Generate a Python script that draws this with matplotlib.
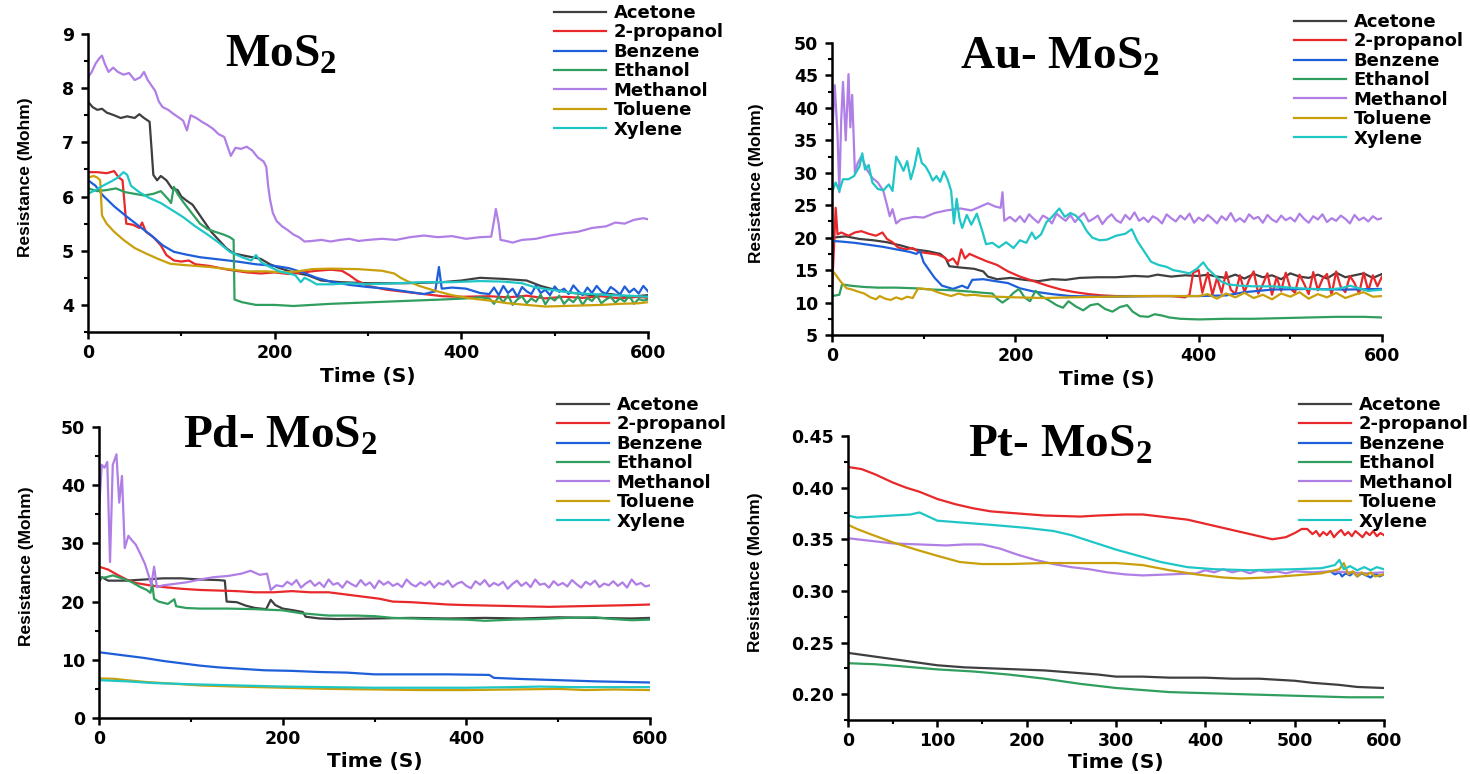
import numpy as np
import matplotlib.pyplot as plt
from matplotlib.ticker import MultipleLocator, FormatStrFormatter

plt.rcParams['font.family'] = ['DejaVu Sans']
plt.rcParams['font.weight'] = 'bold'
plt.rcParams['mathtext.fontset'] = 'custom'
plt.rcParams['mathtext.rm'] = 'Liberation Serif:bold'
plt.rcParams['mathtext.bf'] = 'Liberation Serif:bold'

solvents = ['Acetone', '2-propanol', 'Benzene', 'Ethanol', 'Methanol', 'Toluene', 'Xylene']
colors = ['#3f3f3f', '#e8282b', '#1e5fd9', '#2f9e5e', '#b07fe6', '#c9a00c', '#1fc6c6']

# ---- MoS2 : (time s, resistance Mohm) ----
mos2_acetone = [(0,7.75),(5,7.65),(10,7.6),(15,7.62),(20,7.55),(28,7.5),(35,7.45),(42,7.48),(50,7.45),(55,7.52),
                (60,7.45),(66,7.38),(68,6.9),(70,6.4),(74,6.3),(78,6.38),(84,6.3),(90,6.15),(96,6.12),(100,6.0),
                (106,5.92),(112,5.85),(118,5.7),(124,5.55),(132,5.35),(140,5.2),(148,5.05),(156,4.95),(170,4.9),
                (185,4.85),(195,4.75),(205,4.68),(220,4.6),(235,4.55),(250,4.45),(270,4.42),(300,4.4),(340,4.4),
                (380,4.42),(400,4.45),(420,4.5),(445,4.48),(470,4.45),(485,4.35),(500,4.28),(520,4.22),(540,4.18),
                (560,4.2),(580,4.15),(600,4.18)]
mos2_propanol = [(0,6.45),(10,6.45),(20,6.43),(28,6.47),(33,6.35),(37,6.3),(39,5.9),(41,5.5),(48,5.48),(55,5.42),
                 (58,5.52),(62,5.35),(70,5.25),(78,5.1),(84,4.92),(92,4.82),(100,4.8),(108,4.82),(115,4.75),(130,4.72),
                 (150,4.65),(170,4.6),(185,4.58),(200,4.6),(215,4.57),(230,4.6),(245,4.63),(260,4.65),(272,4.63),
                 (280,4.55),(288,4.45),(300,4.35),(320,4.28),(340,4.24),(360,4.2),(380,4.16),(400,4.15),(430,4.16),
                 (450,4.14),(470,4.17),(490,4.12),(510,4.15),(530,4.13),(550,4.16),(570,4.12),(590,4.15),(600,4.13)]
mos2_benzene = [(0,6.3),(8,6.2),(16,6.02),(28,5.82),(40,5.65),(55,5.45),(68,5.28),(80,5.1),(92,4.98),(105,4.93),
                (120,4.88),(140,4.84),(160,4.8),(180,4.75),(200,4.72),(215,4.68),(230,4.6),(245,4.5),(260,4.43),
                (280,4.37),(300,4.33),(320,4.3),(340,4.25),(360,4.2),(372,4.25),(376,4.7),(379,4.3),(390,4.32),
                (405,4.3),(420,4.22)]
mos2_benzene_tail = [4.2, 4.32, 4.18, 4.35, 4.22, 4.3, 4.15, 4.33, 4.25, 4.2, 4.36, 4.22, 4.28, 4.18, 4.34, 4.24,
                     4.3, 4.2, 4.36, 4.26, 4.18, 4.32, 4.22, 4.35, 4.25, 4.2, 4.33, 4.27, 4.19, 4.34, 4.23, 4.3,
                     4.21, 4.35, 4.25]
mos2_ethanol = [(0,6.15),(10,6.1),(20,6.12),(30,6.15),(40,6.08),(50,6.05),(60,6.02),(70,6.05),(78,6.1),(86,5.95),
                (89,5.88),(92,6.18),(96,6.05),(102,5.9),(110,5.72),(120,5.5),(128,5.4),(136,5.35),(145,5.3),
                (152,5.25),(156,5.2),(157,4.1),(165,4.05),(180,4.0),(200,4.0),(220,3.98),(240,4.0),(260,4.02),
                (290,4.04),(320,4.06),(350,4.08),(380,4.1),(405,4.12),(420,4.14)]
mos2_ethanol_tail = [4.12, 4.02, 4.15, 4.05, 4.18, 4.0, 4.1, 4.16, 4.03, 4.12, 4.06, 4.19, 4.01, 4.14, 4.08, 4.17,
                     4.02, 4.11, 4.05, 4.16, 4.0, 4.13, 4.07, 4.18, 4.03, 4.1, 4.15, 4.04, 4.12, 4.06, 4.17, 4.02,
                     4.11, 4.08, 4.1]
mos2_methanol = [(0,8.2),(4,8.3),(8,8.45),(12,8.55),(15,8.6),(18,8.45),(22,8.3),(27,8.38),(32,8.3),(38,8.25),
                 (44,8.28),(50,8.15),(56,8.2),(60,8.3),(64,8.15),(68,8.05),(72,7.95),(76,7.75),(80,7.65),(86,7.6),
                 (92,7.52),(98,7.45),(102,7.4),(106,7.22),(110,7.5),(116,7.45),(122,7.38),(128,7.32),(134,7.25),
                 (140,7.15),(146,7.1),(150,6.9),(153,6.75),(158,6.9),(164,6.88),(170,6.92),(176,6.85),(182,6.72),
                 (188,6.65),(191,6.55),(193,6.2),(195,5.95),(198,5.7),(202,5.55),(208,5.45),(214,5.38),(220,5.3),
                 (226,5.25),(232,5.17),(240,5.18),(250,5.2),(260,5.17),(270,5.2),(280,5.22),(290,5.18),(300,5.2),
                 (315,5.22),(330,5.2),(345,5.25),(360,5.28),(375,5.25),(390,5.27),(405,5.22),(420,5.25),(432,5.26),
                 (435,5.55),(437,5.77),(440,5.5),(442,5.2),(448,5.18),(455,5.15),(465,5.2),(480,5.22),(495,5.28),
                 (510,5.32),(525,5.35),(540,5.42),(555,5.45),(565,5.52),(575,5.5),(585,5.57),(595,5.6),(600,5.58)]
mos2_toluene = [(0,6.35),(6,6.38),(10,6.35),(13,6.3),(15,5.65),(20,5.5),(28,5.35),(38,5.2),(50,5.05),(62,4.95),
                (75,4.85),(88,4.76),(100,4.74),(115,4.72),(130,4.7),(150,4.66),(170,4.62),(190,4.62),(210,4.6),
                (225,4.62),(240,4.66),(260,4.67),(290,4.66),(315,4.63),(328,4.58),(335,4.5),(342,4.44),(355,4.35),
                (370,4.27),(390,4.18),(410,4.12),(430,4.08),(450,4.03),(470,4.0),(490,3.97),(510,3.98),(530,3.99),
                (550,4.0),(570,4.02),(590,4.03),(600,4.05)]
mos2_xylene = [(0,6.05),(8,6.12),(16,6.2),(25,6.28),(32,6.35),(38,6.45),(42,6.4),(46,6.2),(55,6.08),(65,5.98),
               (78,5.88),(90,5.75),(102,5.62),(115,5.45),(128,5.3),(140,5.15),(152,4.98),(165,4.88),(175,4.82),
               (180,4.92),(186,4.78),(195,4.7),(205,4.62),(215,4.58),(222,4.55),(228,4.42),(232,4.5),(238,4.45),
               (245,4.38),(260,4.38),(280,4.4),(300,4.38),(330,4.4),(360,4.42),(390,4.42),(420,4.44),(445,4.43),
               (465,4.4),(480,4.32),(500,4.27),(520,4.22),(540,4.2),(560,4.18),(580,4.17),(600,4.15)]

# ---- Au-MoS2 ----
au_acetone = [(0,20),(15,20.2),(30,19.8),(45,19.6),(60,19.3),(75,18.8),(90,18.2),(105,17.9),(118,17.5),(124,16.8),
              (128,15.6),(140,15.4),(155,15.2),(165,14.8),(170,14.0),(180,13.6),(195,13.8),(210,13.5),(225,13.3),
              (240,13.6),(255,13.5),(270,13.8),(290,13.9),(310,13.9),(330,14.1),(345,14.0),(355,14.3),(370,14.0),
              (385,14.2),(400,14.1),(410,14.3)]
au_acetone_tail = [14.0, 13.8, 14.3, 13.7, 14.4, 13.9, 14.2, 13.6, 14.5, 14.0, 13.8, 14.3, 13.7, 14.6, 13.9, 14.2,
                   14.5, 13.8, 14.4]
au_propanol = [(0,12),(2,18),(4,24.6),(6,20.5),(10,20.8),(18,20.3),(25,20.8),(32,21.0),(40,20.6),(48,20.3),
               (55,20.8),(60,19.8),(66,19.3),(72,18.5),(80,18.2),(88,18.4),(95,17.8),(105,17.6),(115,17.4),
               (122,17.0),(127,16.4),(132,16.8),(137,15.8),(141,18.2),(145,16.8),(150,17.5),(158,17.0),(168,16.4),
               (180,15.8),(192,14.8),(205,14.0),(220,13.3),(235,12.6),(250,12.0),(265,11.6),(280,11.3),(295,11.1),
               (310,11.0),(340,11.0),(370,11.0),(385,10.8),(390,11.2),(394,14.6),(400,15.0),(404,11.5)]
au_propanol_tail = [14.6, 11.2, 13.8, 11.5, 14.7, 12.0, 11.3, 14.2, 11.6, 13.5, 14.8, 11.4, 12.8, 14.5, 11.2, 13.9,
                    11.8, 14.6, 12.2, 11.5, 14.3, 12.9, 11.3, 14.7, 11.9, 13.6, 14.4, 11.2, 14.8, 12.4, 11.6, 14.1,
                    13.0, 11.4, 14.6, 11.8, 14.2, 12.5, 14.0]
au_benzene = [(0,19.5),(10,19.4),(25,19.2),(40,18.9),(55,18.6),(70,18.2),(85,17.8),(92,17.5),(96,17.9),(100,16.2),
              (105,15.2),(112,13.8),(120,12.6),(132,12.1),(142,12.6),(148,12.2),(153,13.5),(165,13.6),(178,13.3),
              (192,13.0),(205,12.2),(220,11.7),(240,11.3),(260,11.0),(300,10.9),(350,11.0),(400,11.0),(430,11.1),
              (450,11.6),(480,12.0),(520,12.1),(560,12.0),(600,12.1)]
au_ethanol = [(0,11.0),(8,11.2),(11,12.8),(20,12.6),(35,12.4),(50,12.3),(70,12.3),(90,12.2),(110,12.0),(130,11.9),
              (150,11.7),(165,11.5),(175,11.4),(180,10.6),(186,10.0),(192,10.6),(198,11.5),(204,12.1),(210,10.8),
              (216,10.2),(222,11.8),(228,11.0),(236,10.4),(245,9.6),(252,9.2),(258,10.2),(266,9.4),(274,8.8),
              (282,9.6),(290,9.8),(298,9.0),(306,8.6),(314,9.3),(322,9.6),(328,8.6),(336,7.9),(345,7.8),(352,8.2),
              (360,8.0),(368,7.7),(380,7.5),(400,7.4),(430,7.5),(460,7.5),(490,7.6),(520,7.7),(550,7.8),(580,7.8),
              (600,7.7)]
au_methanol = [(0,35.5),(3,43.5),(6,36),(8,27),(10,38),(12,44),(15,35),(18,45.2),(20,37),(22,42),(25,30),(28,31.5),
               (32,32.5),(38,30.5),(44,29.2),(50,28.5),(56,27.2),(60,25),(63,23.3),(66,24.4),(70,22.2),(75,22.8),
               (82,23.0),(90,23.2),(100,23.1),(112,23.8),(125,24.2),(140,24.5),(152,24.2),(162,24.8),(170,25.3),
               (178,24.8),(184,24.6),(186,27.0),(188,22.6),(194,23.2)]
au_methanol_tail = [22.5, 23.3, 22.4, 23.6, 22.9, 22.3, 23.4, 23.0, 22.2, 23.7, 23.1, 22.6, 23.5, 22.4, 23.2, 23.8,
                    22.5, 22.9, 23.4, 22.1, 23.0, 23.6, 22.7, 22.3, 23.5, 22.8, 23.9, 22.6, 23.1, 22.4, 23.3, 22.9,
                    22.2, 23.6, 23.0, 22.5, 23.4, 22.8, 23.7, 22.3, 23.1, 22.6, 23.5, 22.9, 22.2, 23.3, 22.7, 23.8,
                    22.5, 23.0, 22.4, 23.6, 22.9, 23.2, 22.3, 23.5, 22.8, 22.4, 23.4, 22.7, 23.1, 22.5, 23.7, 22.9,
                    22.3, 23.3, 22.8, 23.6, 22.4, 23.0, 22.6, 23.4, 22.9, 22.2, 23.5, 22.7, 23.1, 22.5, 23.3, 22.8,
                    23.0]
au_toluene = [(0,15),(4,14.3),(8,13.5),(12,12.8),(16,12.2),(22,12.0),(28,11.7),(35,11.4),(42,10.8),(48,10.5),
              (52,11.0),(58,10.6),(64,10.4),(70,10.8),(76,10.5),(82,10.9),(88,10.7),(94,12.2),(100,12.1),(108,12.0),
              (115,11.6),(122,11.3),(130,11.0),(138,11.4),(146,11.1),(155,11.2),(165,11.0),(180,10.9),(200,10.8),
              (230,10.7),(260,10.8),(300,10.9),(340,11.0),(380,11.0),(395,11.0)]
au_toluene_tail = [11.0, 11.3, 10.6, 11.4, 10.8, 11.5, 10.7, 11.2, 10.5, 11.4, 10.9, 11.6, 10.6, 11.3, 10.8, 11.5,
                   10.7, 11.2, 11.6, 10.9, 11.0]
au_xylene = [(0,27),(4,28.5),(8,27.2),(12,29),(18,29),(24,29.5),(30,31),(33,33),(36,30.5),(40,31.2),(44,28.5),
             (50,27.5),(56,27.3),(62,28.2),(66,27.2),(70,32.5),(74,31.5),(78,30.3),(82,31.8),(86,29),(90,31),
             (94,33.8),(98,31.5),(102,31),(106,30),(110,28.8),(114,29.5),(118,28.6),(122,30.2),(126,29),(130,27.2),
             (133,22.2),(136,26),(139,23),(142,21.5),(147,23.5),(152,22),(158,23.7),(164,21),(168,19),(175,19.2),
             (182,18.5),(190,19.3),(198,18.4),(205,19.6),(212,19.2),(218,20.8),(222,19.8),(228,20.5),(234,22.4),
             (240,23.2),(248,24.5),(254,23.2),(260,23.8),(266,23.4),(272,22.5),(278,21),(284,20),(292,19.6),
             (300,19.7),(310,20.3),(320,20.6),(327,21.3),(333,19.5),(340,18),(348,16.3),(356,15.8),(365,15.5),
             (372,15.0),(380,14.8),(390,14.5),(398,15.2),(405,16.2),(410,15.2),(416,14.4),(424,13.3),(432,12.8),
             (445,12.6),(460,12.5),(480,12.5),(500,12.3),(520,12.1),(540,12.0),(555,12.2),(565,12.6),(575,12.2),
             (585,11.8),(600,12.0)]

# ---- Pd-MoS2 ----
pd_acetone = [(0,23.4),(3,24.2),(10,23.6),(30,23.6),(50,23.8),(70,24.0),(90,24.0),(110,23.8),(130,23.7),(137,23.6),
              (139,20.0),(150,19.9),(160,19.3),(170,18.9),(182,18.7),(187,20.3),(192,19.4),(200,18.8),(212,18.5),
              (222,18.2),(225,17.4),(240,17.1),(260,17.0),(300,17.1),(340,17.2),(380,17.1),(420,17.2),(460,17.1),
              (500,17.3),(540,17.2),(580,17.1),(600,17.2)]
pd_propanol = [(0,26),(10,25.5),(20,24.6),(30,23.8),(40,23.2),(55,22.8),(70,22.5),(90,22.2),(110,22.0),(130,21.9),
               (150,21.8),(170,21.6),(190,21.6),(210,21.8),(230,21.6),(250,21.6),(270,21.2),(290,20.8),(305,20.5),
               (320,20.0),(340,19.9),(360,19.7),(380,19.5),(400,19.4),(430,19.3),(460,19.2),(490,19.1),(520,19.2),
               (550,19.3),(580,19.4),(600,19.5)]
pd_benzene = [(0,11.3),(15,11.0),(30,10.7),(50,10.3),(70,9.8),(90,9.4),(110,9.0),(130,8.7),(150,8.5),(180,8.2),
              (210,8.1),(240,7.9),(270,7.8),(300,7.5),(340,7.5),(380,7.5),(425,7.4),(430,6.9),(460,6.7),(500,6.5),
              (540,6.3),(570,6.2),(600,6.1)]
pd_ethanol = [(0,24.0),(8,24.2),(15,24.5),(25,24.0),(35,23.4),(45,22.5),(52,22.0),(56,21.5),(58,23.0),(60,20.5),
              (65,20.0),(75,19.6),(82,20.4),(84,19.2),(95,18.9),(110,18.8),(140,18.8),(170,18.7),(200,18.5),
              (220,18.0),(250,17.6),(280,17.6),(300,17.5),(320,17.2),(360,17.0),(400,16.9),(420,16.7),(450,16.9),
              (480,17.0),(510,17.2),(540,17.3),(560,17.0),(580,16.8),(600,16.9)]
pd_methanol = [(0,35.5),(3,43.5),(6,43),(9,44),(12,26.8),(15,43.5),(19,45.3),(22,37),(25,41.6),(28,29.2),(32,31.3),
               (36,30.5),(40,29.8),(45,28.2),(50,26.5),(54,24.5),(57,22.8),(60,26),(63,22.5),(70,22.8),(80,23),
               (95,23.3),(110,23.8),(125,24.2),(140,24.4),(155,24.8),(165,25.3),(175,24.6),(183,24.8),(187,22.0),
               (193,22.8)]
pd_methanol_tail = [22.6, 23.4, 22.9, 23.7, 22.4, 23.1, 23.6, 22.7, 23.3, 22.5, 23.8, 22.9, 23.2, 22.4, 23.5, 23.0,
                    22.6, 23.7, 22.8, 23.3, 22.3, 23.6, 22.9, 23.4, 22.7, 23.1, 22.5, 23.8, 23.0, 22.6, 23.3, 22.8,
                    23.5, 22.4, 23.2, 22.9, 23.6, 22.5, 23.1, 23.4, 22.7, 22.3, 23.5, 22.9, 23.7, 22.6, 23.2, 22.8,
                    23.4, 22.2, 23.0, 23.6, 22.7, 23.3, 22.5, 23.8, 22.9, 23.1, 22.4, 23.5, 22.8, 23.2, 22.6, 23.7,
                    23.0, 22.4, 23.4, 22.9, 23.6, 22.5, 23.1, 22.8, 23.5, 22.7, 23.3, 22.4, 23.8, 22.9, 23.2, 22.6,
                    22.8]
pd_toluene = [(0,6.8),(15,6.75),(30,6.5),(50,6.2),(80,5.9),(110,5.6),(150,5.4),(200,5.2),(250,5.0),(300,4.9),
              (350,4.8),(400,4.8),(450,4.9),(500,5.0),(530,4.8),(560,4.9),(600,4.8)]
pd_xylene = [(0,6.5),(15,6.4),(30,6.3),(60,6.0),(100,5.8),(150,5.6),(200,5.4),(250,5.3),(300,5.2),(350,5.2),
             (400,5.2),(450,5.3),(480,5.4),(520,5.3),(560,5.3),(600,5.3)]

# ---- Pt-MoS2 ----
pt_acetone = [(0,0.240),(25,0.237),(50,0.234),(75,0.231),(100,0.228),(130,0.226),(160,0.225),(190,0.224),
              (220,0.223),(250,0.221),(280,0.219),(300,0.217),(330,0.217),(360,0.216),(400,0.216),(430,0.215),
              (460,0.215),(480,0.214),(500,0.213),(520,0.211),(550,0.209),(570,0.207),(600,0.206)]
pt_propanol = [(0,0.420),(15,0.418),(30,0.413),(50,0.405),(65,0.400),(80,0.396),(100,0.389),(120,0.384),(140,0.380),
               (160,0.377),(190,0.375),(220,0.373),(260,0.372),(280,0.373),(310,0.374),(330,0.374),(350,0.372),
               (380,0.369),(410,0.363),(440,0.357),(460,0.353),(475,0.350),(490,0.352),(500,0.356),(508,0.360),
               (514,0.360)]
pt_propanol_tail = [0.355, 0.358, 0.353, 0.357, 0.354, 0.358, 0.352, 0.356, 0.359, 0.354, 0.357, 0.353, 0.358,
                    0.355, 0.352, 0.357, 0.354, 0.358, 0.353, 0.356, 0.354]
pt_benzene = [(540,0.319),(545,0.316),(550,0.318),(553,0.314),(557,0.317),(562,0.315),(566,0.318),(570,0.314),
              (575,0.317),(580,0.315),(585,0.313),(590,0.317),(595,0.314),(600,0.316)]
pt_ethanol = [(0,0.230),(30,0.229),(60,0.227),(100,0.224),(140,0.222),(180,0.219),(220,0.215),(260,0.210),
              (300,0.206),(330,0.204),(360,0.202),(400,0.201),(440,0.200),(480,0.199),(520,0.198),(560,0.197),
              (600,0.197)]
pt_methanol = [(0,0.351),(20,0.349),(50,0.346),(80,0.345),(110,0.344),(130,0.345),(150,0.345),(170,0.341),
               (190,0.335),(210,0.330),(230,0.326),(250,0.323),(270,0.321),(290,0.318),(310,0.316),(330,0.315),
               (360,0.316),(390,0.317),(400,0.320),(410,0.318),(420,0.321),(430,0.318),(440,0.320),(450,0.317),
               (460,0.320),(470,0.318),(480,0.319),(490,0.317),(500,0.319),(520,0.318),(540,0.319),(560,0.318),
               (580,0.317),(600,0.318)]
pt_toluene = [(0,0.364),(10,0.360),(25,0.355),(50,0.347),(80,0.339),(100,0.334),(125,0.328),(150,0.326),(180,0.326),
              (220,0.327),(260,0.327),(300,0.327),(330,0.325),(360,0.320),(390,0.316),(420,0.313),(440,0.312),
              (470,0.313),(500,0.315),(530,0.317),(550,0.321),(555,0.327),(560,0.316),(565,0.319),(570,0.314),
              (575,0.318),(580,0.315),(585,0.318),(590,0.314),(600,0.316)]
pt_xylene = [(0,0.373),(10,0.371),(30,0.372),(50,0.373),(70,0.374),(80,0.376),(90,0.372),(100,0.368),(130,0.366),
             (160,0.364),(200,0.361),(230,0.358),(250,0.354),(275,0.347),(300,0.340),(325,0.334),(350,0.328),
             (380,0.323),(410,0.321),(450,0.320),(500,0.321),(530,0.322),(545,0.325),(550,0.330),(555,0.321),
             (562,0.324),(570,0.320),(578,0.323),(585,0.320),(592,0.323),(600,0.321)]


def series(pairs, tail=(), start=0, step=5):
    t = [p[0] for p in pairs]
    r = [p[1] for p in pairs]
    t += [start + step * i for i in range(len(tail))]
    r += list(tail)
    return t, r


panels = [
    dict(title='MoS$_{2}$', ylim=(3.5, 9), major=1, minor=0.5, xmajor=200, fmt='%d',
         rect=(88, 34, 648, 332), title_xy=(281, 67), leg_xy=(554, 4), ylab_x=-0.112, xlab_y=-0.151,
         data=[series(mos2_acetone), series(mos2_propanol),
               series(mos2_benzene, mos2_benzene_tail, 430),
               series(mos2_ethanol, mos2_ethanol_tail, 430),
               series(mos2_methanol), series(mos2_toluene), series(mos2_xylene)]),
    dict(title='Au- MoS$_{2}$', ylim=(5, 50), major=5, minor=2.5, xmajor=200, fmt='%d',
         rect=(832, 43, 1382, 335), title_xy=(1060, 68), leg_xy=(1294, 13), ylab_x=-0.138, xlab_y=-0.154,
         data=[series(au_acetone, au_acetone_tail, 420, 10),
               series(au_propanol, au_propanol_tail, 410),
               series(au_benzene), series(au_ethanol),
               series(au_methanol, au_methanol_tail, 200),
               series(au_toluene, au_toluene_tail, 400, 10),
               series(au_xylene)]),
    dict(title='Pd- MoS$_{2}$', ylim=(0, 50), major=10, minor=5, xmajor=200, fmt='%d',
         rect=(99, 427, 650, 718), title_xy=(280, 448), leg_xy=(557, 396), ylab_x=-0.132, xlab_y=-0.151,
         data=[series(pd_acetone), series(pd_propanol), series(pd_benzene), series(pd_ethanol),
               series(pd_methanol, pd_methanol_tail, 200), series(pd_toluene), series(pd_xylene)]),
    dict(title='Pt- MoS$_{2}$', ylim=(0.175, 0.45), major=0.05, minor=0.025, xmajor=100, fmt='%.2f',
         rect=(848, 436, 1384, 720), title_xy=(1060, 457), leg_xy=(1299, 396), ylab_x=-0.172, xlab_y=-0.148,
         data=[series(pt_acetone), series(pt_propanol, pt_propanol_tail, 520, 4),
               series(pt_benzene), series(pt_ethanol), series(pt_methanol),
               series(pt_toluene), series(pt_xylene)]),
]

W, H = 1470, 774
fig = plt.figure(figsize=(W / 100, H / 100), dpi=100)

for p in panels:
    x0, y0, x1, y1 = p['rect']
    ax = fig.add_axes([x0 / W, 1 - y1 / H, (x1 - x0) / W, (y1 - y0) / H])
    for (t, r), name, c in zip(p['data'], solvents, colors):
        ax.plot(t, r, color=c, lw=1.6, label=name)
    ax.set_xlim(0, 600)
    ax.set_ylim(*p['ylim'])
    ax.spines['top'].set_visible(False)
    ax.spines['right'].set_visible(False)
    for s in ['left', 'bottom']:
        ax.spines[s].set_linewidth(1.8)
    ax.xaxis.set_major_locator(MultipleLocator(p['xmajor']))
    ax.xaxis.set_minor_locator(MultipleLocator(p['xmajor'] / 2))
    ax.yaxis.set_major_locator(MultipleLocator(p['major']))
    ax.yaxis.set_minor_locator(MultipleLocator(p['minor']))
    ax.yaxis.set_major_formatter(FormatStrFormatter(p['fmt']))
    ax.tick_params(which='major', length=5, width=1.8, labelsize=12.5)
    ax.tick_params(which='minor', length=3, width=1.5)
    ax.tick_params(axis='x', pad=4)
    ax.tick_params(axis='y', pad=5)
    ax.set_xlabel('Time (S)', fontsize=14.5, fontweight='bold', va='center')
    ax.xaxis.set_label_coords(0.5, p['xlab_y'])
    ax.set_ylabel('Resistance (Mohm)', fontsize=12.5, fontweight='bold',
                  family='Liberation Sans', va='center')
    ax.yaxis.set_label_coords(p['ylab_x'], 0.52)
    lx, ly = p['leg_xy']
    ax.legend(loc='upper left', bbox_to_anchor=(lx / W, 1 - ly / H), bbox_transform=fig.transFigure,
              frameon=False, fontsize=13, handlelength=2.9, handletextpad=0.4, labelspacing=0.08,
              borderpad=0, borderaxespad=0)
    tx, ty = p['title_xy']
    fig.text(tx / W, 1 - ty / H, p['title'].replace('MoS', r'$\mathrm{MoS}$'), fontsize=34,
             family='Liberation Serif', fontweight='bold', ha='center', va='baseline')

fig.savefig('out.png', dpi=100)
